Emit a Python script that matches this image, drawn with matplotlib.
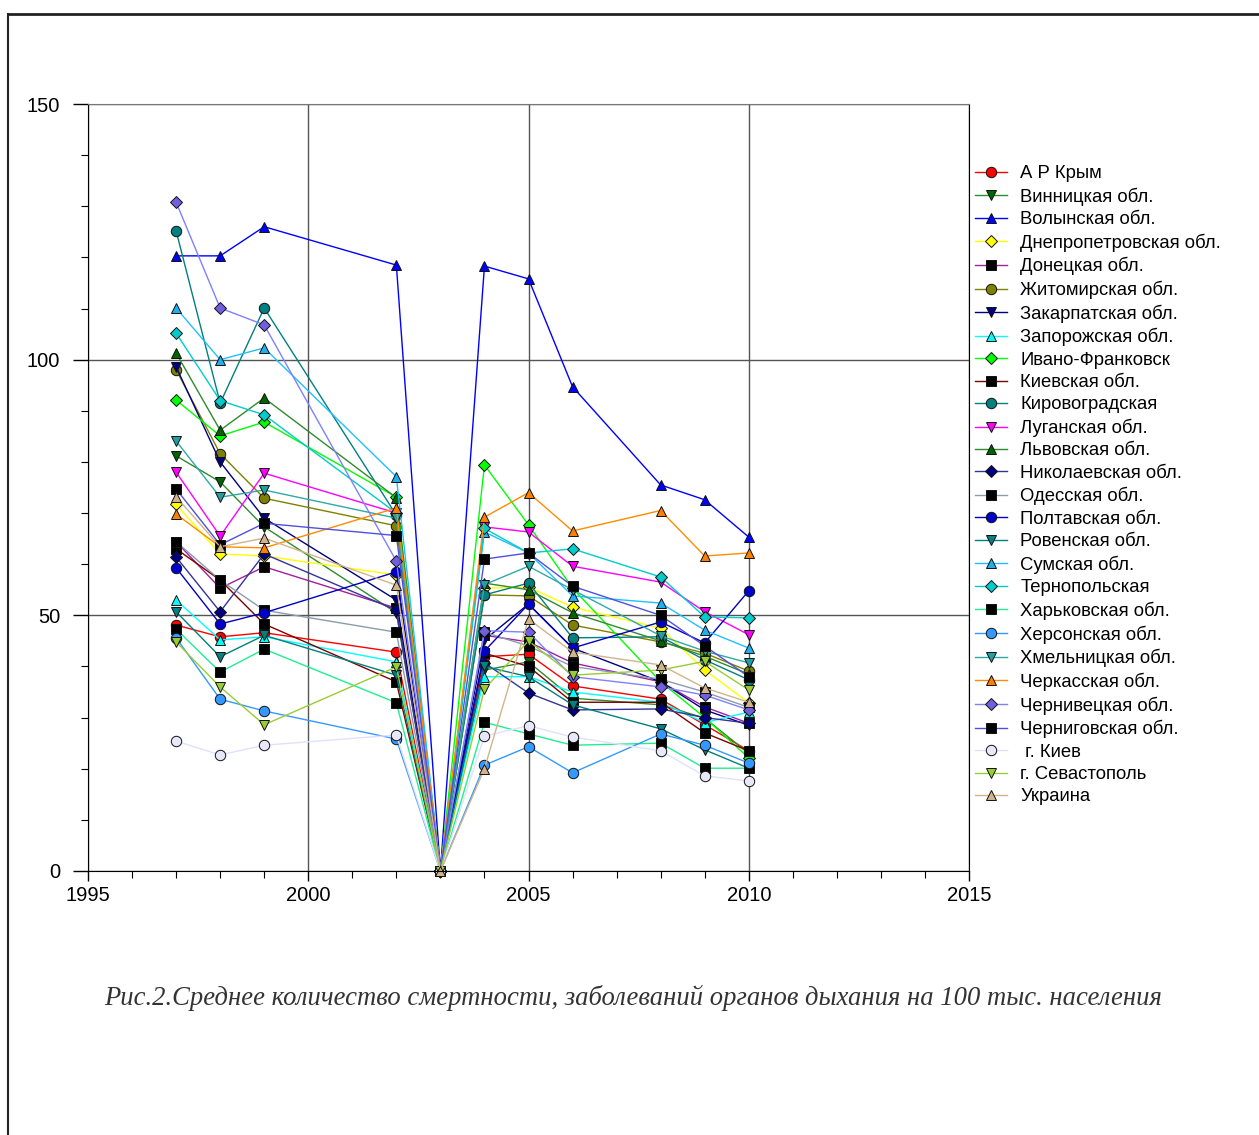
import matplotlib
matplotlib.use("Agg")
import matplotlib.pyplot as plt
from matplotlib.ticker import MultipleLocator
from matplotlib.lines import Line2D

years = [1997, 1998, 1999, 2002, 2003, 2004, 2005, 2006, 2008, 2009, 2010]

krym        = [48.1, 45.8, 46.6, 42.8, 0, 41.9, 42.4, 36.2, 33.6, 28.6, 23.5]
vinnitsa    = [81.2, 76.1, 67.3, 50.5, 0, 39.3, 40.9, 33.8, 32.5, 29.9, 23.0]
volyn       = [120.3, 120.3, 126.0, 118.5, 0, 118.3, 115.8, 94.7, 75.5, 72.6, 65.3]
dnepr       = [71.7, 62.0, 61.6, 57.9, 0, 55.3, 55.5, 51.6, 47.5, 39.3, 32.9]
donetsk     = [64.4, 55.3, 59.5, 51.4, 0, 46.1, 44.8, 40.7, 37.0, 32.1, 28.9]
zhitomir    = [98.0, 81.6, 72.9, 67.5, 0, 54.0, 53.8, 48.1, 44.8, 42.6, 39.1]
zakarpat    = [98.6, 80.0, 69.0, 53.0, 0, 45.2, 52.2, 43.6, 37.0, 31.5, 28.5]
zaporozh    = [53.0, 45.2, 45.8, 40.9, 0, 38.0, 38.0, 35.0, 33.0, 29.0, 31.1]
ivanofr     = [92.1, 85.1, 87.8, 73.1, 0, 79.4, 67.7, 55.3, 37.0, 30.0, 22.1]
kievobl     = [63.0, 56.9, 48.3, 37.0, 0, 42.6, 40.0, 33.0, 33.0, 27.0, 23.5]
kirovograd  = [125.2, 91.5, 110.1, 69.6, 0, 54.0, 56.3, 45.6, 45.8, 41.3, 37.4]
lugansk     = [78.0, 65.5, 77.8, 70.0, 0, 67.3, 66.3, 59.6, 56.5, 50.7, 46.2]
lvov        = [101.3, 86.2, 92.5, 73.0, 0, 56.3, 55.0, 50.5, 45.0, 42.0, 38.5]
nikolaev    = [61.4, 50.7, 62.0, 51.0, 0, 40.7, 34.8, 31.5, 31.7, 30.0, 28.9]
odessa      = [64.4, 56.9, 51.0, 46.7, 0, 46.7, 44.0, 40.0, 37.5, 35.0, 32.0]
poltava     = [59.3, 48.3, 50.5, 58.5, 0, 43.0, 52.2, 43.6, 48.7, 44.6, 54.8]
rovno       = [50.7, 41.9, 46.1, 38.3, 0, 40.0, 38.0, 32.5, 27.8, 23.7, 20.1]
sumy        = [110.1, 100.0, 102.3, 77.1, 0, 66.3, 62.2, 53.8, 52.4, 47.1, 43.6]
ternopol    = [105.2, 92.0, 89.2, 70.0, 0, 67.0, 62.2, 63.0, 57.5, 49.7, 49.5]
kharkov     = [47.3, 38.9, 43.4, 32.9, 0, 29.1, 26.8, 24.6, 25.0, 20.1, 20.1]
kherson     = [45.6, 33.6, 31.3, 25.8, 0, 20.7, 24.3, 19.2, 26.8, 24.6, 21.1]
khmelnitsk  = [84.1, 73.1, 74.5, 69.0, 0, 56.0, 59.6, 55.0, 46.0, 43.0, 40.7]
cherkassy   = [69.8, 63.4, 63.2, 71.0, 0, 69.2, 74.0, 66.5, 70.5, 61.6, 62.2]
chernovtsy  = [130.8, 110.1, 106.8, 60.6, 0, 47.0, 46.7, 38.0, 36.0, 34.4, 31.5]
chernigov   = [74.7, 63.8, 68.0, 65.6, 0, 61.0, 62.2, 55.7, 50.0, 44.0, 38.0]
kiev_city   = [25.4, 22.7, 24.6, 26.6, 0, 26.4, 28.4, 26.2, 23.5, 18.6, 17.6]
sevastopol  = [44.8, 36.0, 28.6, 39.9, 0, 35.6, 45.0, 38.3, 39.3, 41.0, 35.4]
ukraine     = [73.2, 63.4, 65.1, 55.9, 0, 20.0, 49.3, 42.8, 40.3, 35.8, 33.0]

names = ["А Р Крым", "Винницкая обл.", "Волынская обл.", "Днепропетровская обл.",
         "Донецкая обл.", "Житомирская обл.", "Закарпатская обл.", "Запорожская обл.",
         "Ивано-Франковск", "Киевская обл.", "Кировоградская", "Луганская обл.",
         "Львовская обл.", "Николаевская обл.", "Одесская обл.", "Полтавская обл.",
         "Ровенская обл.", "Сумская обл.", "Тернопольская", "Харьковская обл.",
         "Херсонская обл.", "Хмельницкая обл.", "Черкасская обл.", "Чернивецкая обл.",
         "Черниговская обл.", " г. Киев", "г. Севастополь", "Украина"]
series = [krym, vinnitsa, volyn, dnepr, donetsk, zhitomir, zakarpat, zaporozh,
          ivanofr, kievobl, kirovograd, lugansk, lvov, nikolaev, odessa, poltava,
          rovno, sumy, ternopol, kharkov, kherson, khmelnitsk, cherkassy, chernovtsy,
          chernigov, kiev_city, sevastopol, ukraine]

# (line colour, marker, marker face)
styles = [
    ("#ff0000", "o", "#ff0000"),
    ("#2e8b2e", "v", "#006400"),
    ("#0000ff", "^", "#0000ff"),
    ("#ffff00", "D", "#ffff00"),
    ("#a020a0", "s", "#000000"),
    ("#808000", "o", "#808000"),
    ("#000080", "v", "#000080"),
    ("#00ffff", "^", "#00ffff"),
    ("#00ff00", "D", "#00ff00"),
    ("#800000", "s", "#000000"),
    ("#008080", "o", "#008080"),
    ("#ff00ff", "v", "#ff00ff"),
    ("#2e8b2e", "^", "#006400"),
    ("#333399", "D", "#000080"),
    ("#8c9cb0", "s", "#000000"),
    ("#0000c0", "o", "#0000cc"),
    ("#008080", "v", "#008080"),
    ("#20c0ff", "^", "#20b0f0"),
    ("#00cccc", "D", "#00cccc"),
    ("#20ee90", "s", "#000000"),
    ("#3399ff", "o", "#3399ff"),
    ("#30a8a8", "v", "#20a0a0"),
    ("#ff8c00", "^", "#ff8000"),
    ("#8080ff", "D", "#7060e0"),
    ("#5050dd", "s", "#000000"),
    ("#e0e0ff", "o", "#e8e8fa"),
    ("#99cc33", "v", "#99cc33"),
    ("#d2b48c", "^", "#d2b48c"),
]

plt.rcParams['font.family'] = ['Liberation Sans', 'DejaVu Sans']

fig = plt.figure(figsize=(12.59, 11.35), dpi=100)
ax = fig.add_axes([88/1259, 1-871/1135, (969-88)/1259, (871-104)/1135])

handles = []
for vals, name, (lc, mk, mf) in zip(series, names, styles):
    ms = 7.5 if mk != "D" else 6
    h, = ax.plot(years, vals, color=lc, lw=1.0, marker=mk, markersize=ms,
                 markerfacecolor=mf, markeredgecolor="#111111", markeredgewidth=0.7,
                 clip_on=False, label=name)
    handles.append(h)

ax.set_xlim(1995, 2015)
ax.set_ylim(0, 150)
ax.xaxis.set_major_locator(MultipleLocator(5))
ax.xaxis.set_minor_locator(MultipleLocator(1))
ax.yaxis.set_major_locator(MultipleLocator(50))
ax.yaxis.set_minor_locator(MultipleLocator(10))
ax.grid(True, which='major', color='#555555', lw=1.0)
ax.set_axisbelow(True)
ax.tick_params(axis='both', which='major', width=1, labelsize=14.5, direction='out')
ax.tick_params(axis='x', which='major', length=7, pad=4)
ax.tick_params(axis='y', which='major', length=11, pad=9)
ax.tick_params(axis='both', which='minor', length=5, width=0.8, direction='out')
ax.spines['top'].set_color('#777777')
for s in ['left', 'bottom', 'right']:
    ax.spines[s].set_color('black')

leg = fig.legend(handles=handles, loc='upper left',
                 bbox_to_anchor=(975/1259, 1-165/1135), frameon=False,
                 fontsize=13.3, labelspacing=0.29, handlelength=1.75,
                 handletextpad=0.7, borderpad=0.0, borderaxespad=0.0)

fig.text(633/1259, 1-998/1135,
         "Рис.2.Среднее количество смертности, заболеваний органов дыхания на 100 тыс. населения",
         ha='center', va='center', fontsize=19.2, style='italic',
         family=['Liberation Serif', 'DejaVu Serif'], color='#333333')

# page frame
fig.add_artist(Line2D([8/1259, 1.0], [1-14/1135, 1-14/1135], color='#222222', lw=2))
fig.add_artist(Line2D([8/1259, 8/1259], [0.0, 1-14/1135], color='#222222', lw=1.5))

fig.savefig("out.png", dpi=100)
